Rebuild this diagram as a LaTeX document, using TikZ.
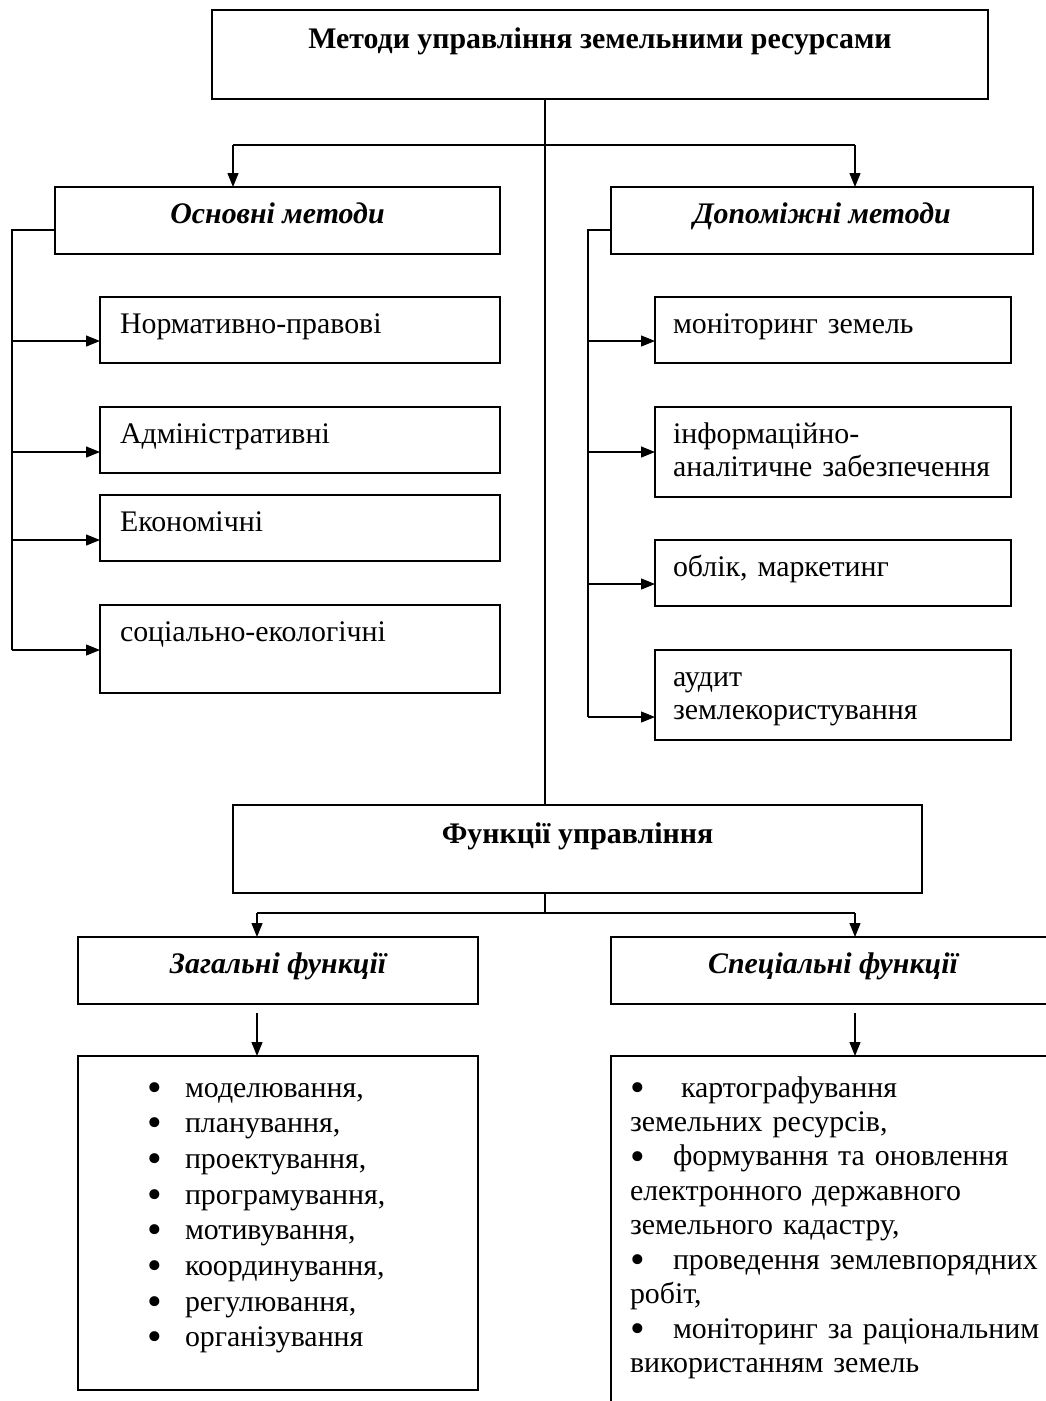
\documentclass[tikz,border=0pt]{standalone}
\usepackage{fontspec}
\setmainfont{Liberation Serif}
\usetikzlibrary{arrows.meta}
\tikzset{box/.style={draw, line width=0.9pt, inner sep=0pt, outer sep=0pt, anchor=north west,
   font=\fontsize{17}{18.8}\selectfont},
 head/.style={box, text height=7.2mm, text depth=6.2mm, font=\fontsize{17}{18.8}\selectfont\bfseries\itshape},
 titlebox/.style={box, text height=7.6mm, font=\fontsize{17}{18.8}\selectfont\bfseries},
 itembox/.style={box, align=left, text height=7.2mm},
 listbox/.style={box, align=left, text height=8.2mm},
 line/.style={line width=0.7pt},
 arr/.style={line, -{Triangle[length=2.8mm,width=2.2mm]}},
}
\newcommand{\bigbul}{\smash{\raisebox{-0.3ex}{\scalebox{1.4}{\textbullet}}}}
\newcommand{\lbul}{\makebox[7.6mm][l]{\bigbul}}

\begin{document}
\begin{tikzpicture}[x=0.2mm,y=-0.2mm]
        \useasboundingbox (0,0) rectangle (1046,1401);

        % methods
        \node[titlebox, minimum width=155.2mm, text depth=10.2mm] (top) at (212,10) {Методи управління земельними ресурсами};
        \node[head, minimum width=89mm] (osn) at (55,187) {Основні методи};
        \node[head, minimum width=84.4mm] (dop) at (611,187) {Допоміжні методи};

        \node[itembox, text width=72mm, inner xsep=4mm, text depth=6mm] (norm) at (100,297) {Нормативно-правові};
        \node[itembox, text width=72mm, inner xsep=4mm, text depth=6mm] (adm) at (100,407) {Адміністративні};
        \node[itembox, text width=72mm, inner xsep=4mm, text depth=6mm] (eko) at (100,495) {Економічні};
        \node[itembox, text width=72mm, inner xsep=4mm, text depth=10.4mm] (soc) at (100,605) {соціально-екологічні};

        \node[itembox, text width=64mm, inner xsep=3.6mm, text depth=6mm] (mon) at (655,297) {моніторинг земель};
        \node[itembox, text width=64mm, inner xsep=3.6mm, text depth=10.8mm] (inf) at (655,407) {інформаційно-\\\mbox{аналітичне забезпечення}};
        \node[itembox, text width=64mm, inner xsep=3.6mm, text depth=6mm] (obl) at (655,540) {облік, маркетинг};
        \node[itembox, text width=64mm, inner xsep=3.6mm, text depth=10.8mm] (aud) at (655,650) {аудит\\землекористування};

        % functions
        \node[titlebox, minimum width=137.8mm, text depth=10mm] (fun) at (233,805) {Функції управління};
        \node[head, minimum width=80mm] (zag) at (78,937) {Загальні функції};
        \node[head, minimum width=88.8mm] (spec) at (611,937) {Спеціальні функції};

        \node[listbox, text width=52.4mm, inner xsep=13.8mm, text depth=58.6mm,
              font=\fontsize{17}{20.3}\selectfont] (zlist) at (78,1056)
            {\lbul моделювання,\\ \lbul планування,\\ \lbul проектування,\\ \lbul програмування,\\
             \lbul мотивування,\\ \lbul координування,\\ \lbul регулювання,\\ \lbul організування};
        \node[listbox, text width=84mm, inner xsep=3.8mm, text depth=66.6mm,
              font=\fontsize{17}{19.6}\selectfont] (slist) at (611,1056)
            {\makebox[10.2mm][l]{\bigbul}картографування\\ земельних ресурсів,\\
             \makebox[8.6mm][l]{\bigbul}формування та оновлення\\ електронного державного\\ земельного кадастру,\\
             \makebox[8.6mm][l]{\bigbul}проведення землевпорядних\\ робіт,\\
             \makebox[8.6mm][l]{\bigbul}моніторинг за раціональним\\ використанням земель};

        % connectors
        \coordinate (mid) at (545,145);
        \coordinate (b1) at (233,145);
        \coordinate (b2) at (855,145);
        \coordinate (ltop) at (12,230);
        \coordinate (rtop) at (588,230);
        \foreach \i/\y in {1/341, 2/452, 3/540, 4/650}
            \coordinate (l\i) at (12,\y);
        \foreach \i/\y in {1/341, 2/452, 3/584, 4/717}
            \coordinate (r\i) at (588,\y);

        \draw[line] (mid |- top.south) -- (mid |- fun.north);
        \draw[line] (b1) -- (b2);
        \draw[arr] (b1) -- (b1 |- osn.north);
        \draw[arr] (b2) -- (b2 |- dop.north);
        \draw[line] (ltop -| osn.west) -- (ltop) -- (l4);
        \draw[line] (rtop -| dop.west) -- (rtop) -- (r4);
        \foreach \c/\n in {l1/norm, l2/adm, l3/eko, l4/soc, r1/mon, r2/inf, r3/obl, r4/aud}
            \draw[arr] (\c) -- (\c -| \n.west);

        \coordinate (c0) at (545,913);
        \coordinate (c1) at (257,913);
        \coordinate (c2) at (855,913);
        \coordinate (d1) at (257,1013);
        \coordinate (d2) at (855,1013);
        \draw[line] (c0 |- fun.south) -- (c0);
        \draw[line] (c1) -- (c2);
        \draw[arr] (c1) -- (c1 |- zag.north);
        \draw[arr] (c2) -- (c2 |- spec.north);
        \draw[arr] (d1) -- (d1 |- zlist.north);
        \draw[arr] (d2) -- (d2 |- slist.north);
    \end{tikzpicture}
\end{document}
